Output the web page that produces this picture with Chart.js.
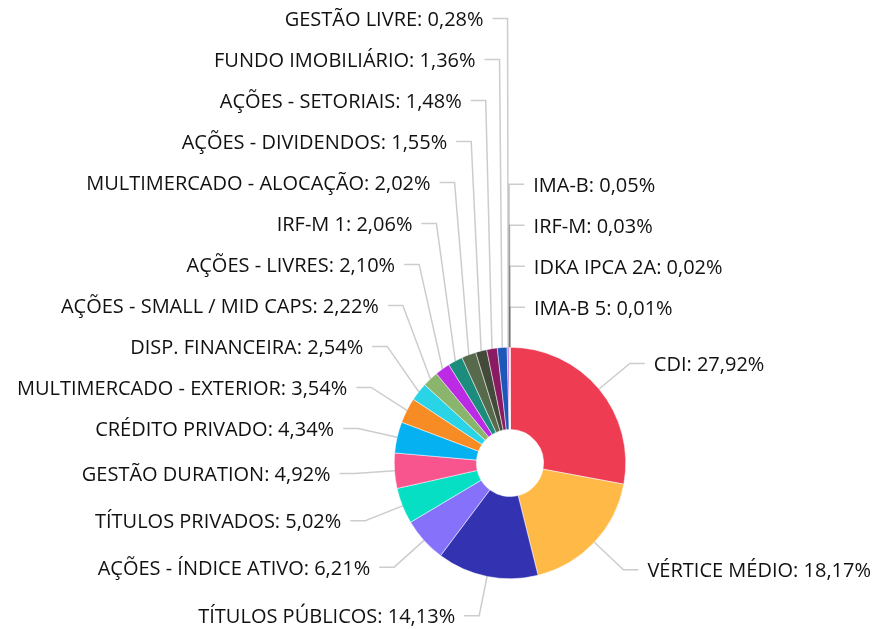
<!DOCTYPE html>
<html>
<head>
<meta charset="utf-8">
<script src="https://cdn.jsdelivr.net/npm/chart.js@4"></script>
<style>
  html, body { margin: 0; padding: 0; background: #fff; }
  #wrap { width: 874px; height: 629px; }
</style>
</head>
<body>
<div id="wrap"><canvas id="pieCarteira"></canvas></div>
<script>
var categories = ['CDI', 'VÉRTICE MÉDIO', 'TÍTULOS PÚBLICOS', 'AÇÕES - ÍNDICE ATIVO', 'TÍTULOS PRIVADOS',
'GESTÃO DURATION', 'CRÉDITO PRIVADO', 'MULTIMERCADO - EXTERIOR', 'DISP. FINANCEIRA',
'AÇÕES - SMALL / MID CAPS', 'AÇÕES - LIVRES', 'IRF-M 1', 'MULTIMERCADO - ALOCAÇÃO',
'AÇÕES - DIVIDENDOS', 'AÇÕES - SETORIAIS', 'FUNDO IMOBILIÁRIO', 'GESTÃO LIVRE',
'IMA-B', 'IRF-M', 'IDKA IPCA 2A', 'IMA-B 5'];
var values = [27.92, 18.17, 14.13, 6.21, 5.02, 4.92, 4.34, 3.54, 2.54, 2.22, 2.10, 2.06, 2.02,
1.55, 1.48, 1.36, 0.28, 0.05, 0.03, 0.02, 0.01];
var colors = ['#ee3d52', '#ffb946', '#3333b2', '#8672fa', '#07dfc4', '#f8548d', '#06b1f2',
'#f78b24', '#28d4e6', '#8bb56d', '#ba2be3', '#1c8c7c', '#586a4c', '#434a39', '#8a1b62',
'#1d57b9', '#c864d4', '#7a4fd0', '#e84c3d', '#2ecc71', '#f1c40f'];

function fmt(v) {
  return v.toFixed(2).replace('.', ',') + '%';
}

// labels outside the pie, with leader lines
var outLabels = {
  id: 'outLabels',
  afterDatasetsDraw: function(chart) {
    var ctx = chart.ctx;
    var arcs = chart.getDatasetMeta(0).data;
    var left = [], right = [];
    arcs.forEach(function(arc, i) {
      var p = arc.getProps(['x', 'y', 'startAngle', 'endAngle', 'outerRadius'], true);
      var a = (p.startAngle + p.endAngle) / 2;
      var r2 = p.outerRadius + 40;
      var deg = (a + Math.PI / 2) * 180 / Math.PI;
      var item = {
        i: i,
        ax: p.x + p.outerRadius * Math.cos(a),
        ay: p.y + p.outerRadius * Math.sin(a),
        bx: p.x + r2 * Math.cos(a),
        y: p.y + r2 * Math.sin(a),
        deg: deg
      };
      if (Math.cos(a) > -0.012) {
        item.key = deg >= 180 ? deg - 360 : deg;
        right.push(item);
      } else {
        item.key = -deg;
        left.push(item);
      }
    });
    var gap = 41;
    [left, right].forEach(function(side) {
      side.sort(function(a, b) { return a.key - b.key; });
      for (var k = side.length - 2; k >= 0; k--) {
        side[k].y = Math.min(side[k].y, side[k + 1].y - gap);
      }
    });

    ctx.save();
    ctx.strokeStyle = 'rgba(0,0,0,0.2)';
    ctx.lineWidth = 1.5;
    ctx.font = '20px "Open Sans"';
    ctx.fillStyle = '#111';
    ctx.textBaseline = 'middle';
    function draw(it, dir) {
      ctx.beginPath();
      ctx.moveTo(it.ax, it.ay);
      ctx.lineTo(it.bx, it.y);
      ctx.lineTo(it.bx + dir * 15, it.y);
      ctx.stroke();
      ctx.textAlign = dir > 0 ? 'left' : 'right';
      ctx.fillText(categories[it.i] + ': ' + fmt(values[it.i]), it.bx + dir * 24, it.y + 2);
    }
    left.forEach(function(it) { draw(it, -1); });
    right.forEach(function(it) { draw(it, 1); });
    ctx.restore();
  }
};

const ctxPie = document.getElementById('pieCarteira');

new Chart(ctxPie, {
  type: 'doughnut',
  data: {
    labels: categories,
    datasets: [{
      data: values,
      backgroundColor: colors,
      borderColor: '#ffffff',
      borderWidth: 0.5
    }]
  },
  options: {
    responsive: true,
    maintainAspectRatio: false,
    animation: false,
    cutout: '29%',
    layout: {
      padding: { left: 394, right: 248, top: 347, bottom: 50 }
    },
    plugins: {
      legend: { display: false },
      tooltip: { enabled: false }
    }
  },
  plugins: [outLabels]
});
</script>
</body>
</html>
